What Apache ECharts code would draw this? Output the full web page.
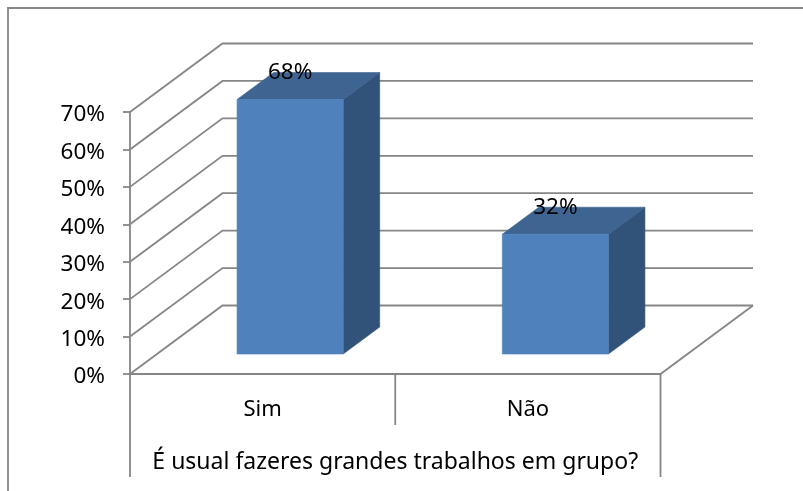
<!DOCTYPE html>
<html>
<head>
<meta charset="utf-8">
<style>html,body{margin:0;padding:0;background:#fff}#c{width:803px;height:491px}</style>
<script src="https://cdn.jsdelivr.net/npm/echarts@6/dist/echarts.min.js"></script>
</head>
<body>
<div id="c"></div>
<script>
const categories = ['Sim', 'Não'];
const values = [68, 32];
const valueLabels = ['68%', '32%'];
const yTicks = [0, 10, 20, 30, 40, 50, 60, 70];
const axisTitle = 'É usual fazeres grandes trabalhos em grupo?';

const FONT = '"Noto Sans", sans-serif';
const LINE = '#868686';
const LW = 1.8;
const FRONT = '#4F81BD', TOP = '#3E6491', SIDE = '#325379';
const DEPTH = [92.5, 68.5];         // wall depth in px
const BAR_NEAR = [27.5, 20];        // bar front offset from front plane
const BAR_FAR = [64, 47];           // bar back offset from front plane
const BAR_RATIO = 0.4;

function poly(points, color) {
  return { type: 'polygon', shape: { points }, style: { fill: color, stroke: color, lineWidth: 0.6 } };
}
function line(points) {
  return { type: 'polyline', shape: { points },
           style: { stroke: LINE, lineWidth: LW, fill: 'none' } };
}

function renderWall(params, api) {
  const v = api.value(1);
  const band = api.size([1, 0])[0];
  const p = api.coord([0, v]);
  const x0 = p[0] - band / 2, y = p[1];
  const x1 = x0 + band * categories.length;
  const children = [line([[x0, y], [x0 + DEPTH[0], y - DEPTH[1]], [x1 + DEPTH[0], y - DEPTH[1]]])];
  if (v === 0) {
    children.push(line([[x0, y], [x1, y], [x1 + DEPTH[0], y - DEPTH[1]]]));
    children.push(line([[x0, y], [x0, y + 103]]));
    children.push(line([[x1, y], [x1, y + 103]]));
    children.push(line([[x0 + band, y], [x0 + band, y + 51]]));
  }
  return { type: 'group', children };
}

function renderBar(params, api) {
  const cat = api.value(0), v = api.value(1);
  const band = api.size([1, 0])[0];
  const w = band * BAR_RATIO;
  const base = api.coord([cat, 0]), top = api.coord([cat, v]);
  const l = base[0] - w / 2 + BAR_NEAR[0], r = l + w;
  const b = base[1] - BAR_NEAR[1], t = top[1] - BAR_NEAR[1];
  const dx = BAR_FAR[0] - BAR_NEAR[0], dy = BAR_FAR[1] - BAR_NEAR[1];
  return { type: 'group', children: [
    poly([[r, t], [r + dx, t - dy], [r + dx, b - dy], [r, b]], SIDE),
    poly([[l, t], [l + dx, t - dy], [r + dx, t - dy], [r, t]], TOP),
    poly([[l, t], [r, t], [r, b], [l, b]], FRONT),
    { type: 'text', x: (l + r) / 2, y: t - 27,
      style: { text: valueLabels[params.dataIndex], fill: '#000', font: '22.5px ' + FONT,
               align: 'center', verticalAlign: 'middle' } }
  ]};
}

const chart = echarts.init(document.getElementById('c'), null, { renderer: 'canvas' });
chart.setOption({
  animation: false,
  backgroundColor: '#fff',
  grid: { left: 130, right: 142.5, top: 112, bottom: 117 },
  xAxis: {
    type: 'category', data: categories,
    axisLine: { show: false }, axisTick: { show: false },
    axisLabel: { color: '#000', fontSize: 22, fontFamily: FONT, margin: 25 },
    name: axisTitle, nameLocation: 'middle', nameGap: 77,
    nameTextStyle: { color: '#000', fontSize: 23, fontFamily: FONT }
  },
  yAxis: {
    type: 'value', min: 0, max: 70, interval: 10,
    axisLine: { show: true, lineStyle: { color: LINE, width: LW } },
    axisTick: { show: true, length: 7, lineStyle: { color: LINE, width: LW } },
    splitLine: { show: false },
    axisLabel: { color: '#000', fontSize: 22.5, fontFamily: FONT, margin: 18, padding: [0, 7, 0, 0],
                 verticalAlign: 'top', lineHeight: 6, formatter: '{value}%' }
  },
  graphic: [{ type: 'polyline', shape: { points: [[8, 491], [8, 8], [803, 8]] },
              style: { stroke: LINE, lineWidth: LW, fill: 'none' }, silent: true }],
  series: [
    { type: 'custom', name: 'walls', renderItem: renderWall, clip: false, silent: true,
      data: yTicks.map(t => [0, t]), z: 1 },
    { type: 'custom', name: 'bars', renderItem: renderBar, clip: false,
      data: values.map((v, i) => [i, v]), z: 2 }
  ]
});
</script>
</body>
</html>
